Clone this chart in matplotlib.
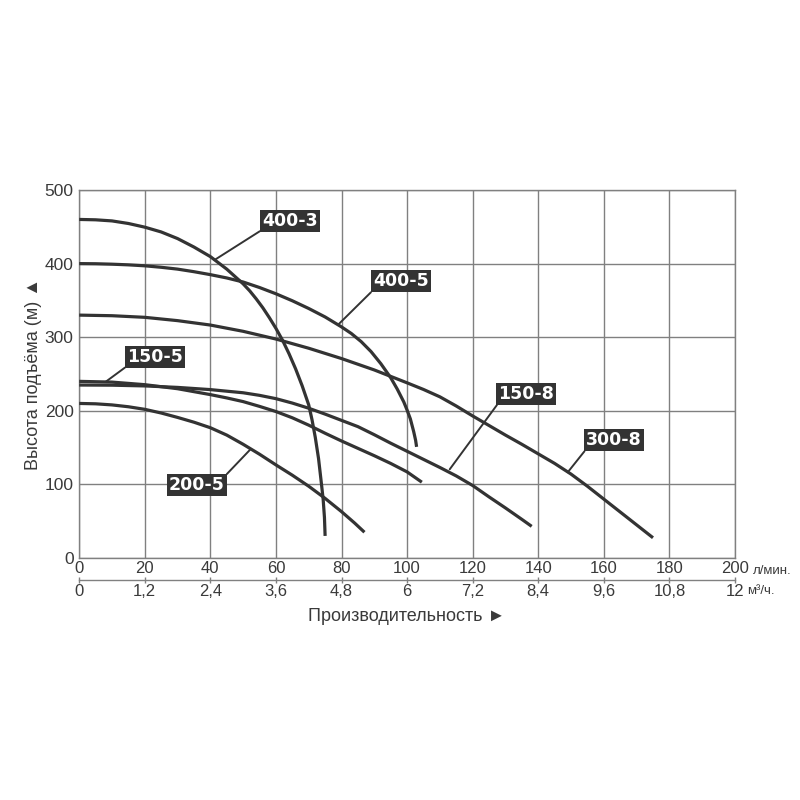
import matplotlib

matplotlib.use("Agg")
import matplotlib.pyplot as plt

# pump curves: flow in l/min, head in m
q_400_3 = [0, 5, 10, 15, 20, 25, 30, 35, 40, 45, 50, 52, 54, 56, 58, 60, 62, 64, 66, 68,
           70, 71, 72, 73, 73.9, 74.4, 74.8, 75]
h_400_3 = [460, 459.5, 458, 454.5, 449.5, 443, 434, 422.5, 409.5, 392.5, 372.5, 363, 352, 340,
           326.5, 312, 296, 277.5, 257, 234, 208, 188, 164, 135, 100, 80, 55, 30]

q_400_5 = [0, 5, 10, 15, 20, 25, 30, 35, 40, 45, 50, 55, 60, 65, 70, 75, 80, 83, 86, 89, 92,
           95, 97, 99, 100, 101, 102, 102.6, 102.9]
h_400_5 = [400, 399.8, 399.2, 398.3, 397, 395, 392.5, 389, 385, 380.5, 375, 367.5, 359, 349.5,
           339, 327.5, 314, 305, 294, 280.5, 264, 245, 229.5, 212, 201, 189, 172, 160, 151]

q_300_8 = [0, 10, 20, 30, 40, 50, 60, 70, 80, 90, 100, 105, 110, 115, 120, 125, 130, 135, 140,
           145, 150, 155, 160, 165, 170, 175]
h_300_8 = [330, 329.2, 327, 322.5, 316.5, 308, 297.5, 285, 271, 255.5, 238, 229, 219, 206.5,
           193, 180, 167, 154.5, 141.5, 128.5, 114, 97.5, 80, 62.5, 45, 27.5]

q_150_8 = [0, 10, 20, 30, 40, 50, 55, 60, 65, 70, 75, 80, 85, 90, 95, 100, 105, 110, 115, 120,
           125, 130, 135, 138]
h_150_8 = [235, 234.8, 233.8, 231.8, 228.8, 224.5, 221, 216.5, 210.5, 203.5, 195.5, 187, 178.5,
           167.5, 156, 145, 134, 123, 111.5, 98.5, 83, 68, 52.5, 43]

q_150_5 = [0, 10, 20, 30, 40, 45, 50, 55, 60, 65, 70, 75, 80, 85, 90, 95, 100, 104.5]
h_150_5 = [240, 239, 235.5, 230, 222, 217.5, 212.5, 206, 199, 190.5, 180.5, 169.5, 159, 149, 139,
           128.5, 117, 103]

q_200_5 = [0, 5, 10, 15, 20, 25, 30, 35, 40, 45, 50, 55, 60, 65, 70, 75, 80, 84, 87]
h_200_5 = [210, 209.5, 208, 205.5, 202, 197, 191, 184.5, 177, 167, 154.5, 141, 126.5, 112.5, 97.5,
           81, 63, 47.5, 35]

curves = [
    ("400-3", q_400_3, h_400_3),
    ("400-5", q_400_5, h_400_5),
    ("300-8", q_300_8, h_300_8),
    ("150-8", q_150_8, h_150_8),
    ("150-5", q_150_5, h_150_5),
    ("200-5", q_200_5, h_200_5),
]

x_ticks_lmin = [0, 20, 40, 60, 80, 100, 120, 140, 160, 180, 200]
x_ticks_m3h = [0, 1.2, 2.4, 3.6, 4.8, 6, 7.2, 8.4, 9.6, 10.8, 12]
x_labels_m3h = ["0", "1,2", "2,4", "3,6", "4,8", "6", "7,2", "8,4", "9,6", "10,8", "12"]
y_ticks = [0, 100, 200, 300, 400, 500]

# label box centre, leader end on curve, corner of box the leader leaves from
label_layout = {
    "400-3": ((64.2, 458), (41.3, 405), (0, 0)),
    "400-5": ((98.1, 376), (79.2, 318), (0, 0)),
    "150-5": ((23.1, 273), (8.1, 239.5), (0, 0)),
    "200-5": ((35.9, 99), (52.3, 148), (1, 1)),
    "150-8": ((136.4, 223), (113, 120.5), (0, 0)),
    "300-8": ((163.1, 160), (149, 116.5), (0, 0)),
}

GRID = "#808080"
INK = "#333333"
TEXT = "#3a3a3a"
FONT = ["Liberation Sans", "DejaVu Sans"]

fig = plt.figure(figsize=(8, 8), dpi=100)
ax = fig.add_axes([0.099, 0.3025, 0.8197, 0.46])

for name, q, h in curves:
    ax.plot(q, h, color=INK, linewidth=2.3, solid_capstyle="butt",
            solid_joinstyle="round", zorder=3)

for name, (text_pos, point, corner) in label_layout.items():
    ax.annotate(
        name,
        xy=point,
        xytext=text_pos,
        ha="center",
        va="center",
        color="white",
        fontsize=12.5,
        fontweight="bold",
        family="DejaVu Sans",
        bbox=dict(boxstyle="square,pad=0.12", facecolor=INK, edgecolor="none"),
        arrowprops=dict(arrowstyle="-", color=INK, linewidth=1.4, relpos=corner,
                        shrinkA=0, shrinkB=0),
        zorder=5,
    )

ax.set_xlim(0, 200)
ax.set_ylim(0, 500)
ax.set_xticks(x_ticks_lmin)
ax.set_yticks(y_ticks)
ax.grid(True, color=GRID, linewidth=1.0)
ax.set_axisbelow(True)
for spine in ax.spines.values():
    spine.set_color(GRID)
    spine.set_linewidth(1.0)
ax.tick_params(axis="both", length=0, labelcolor=TEXT)
ax.tick_params(axis="x", pad=2, labelsize=12)
ax.tick_params(axis="y", pad=4, labelsize=12.5)
for lab in ax.get_xticklabels() + ax.get_yticklabels():
    lab.set_family(FONT)

sec = ax.secondary_xaxis(-22 / 368, functions=(lambda x: x * 0.06, lambda x: x / 0.06))
sec.set_xticks(x_ticks_m3h)
sec.set_xticklabels(x_labels_m3h)
sec.spines["bottom"].set_color(GRID)
sec.spines["bottom"].set_linewidth(1.0)
sec.tick_params(axis="x", direction="inout", length=4, width=1.0, color=GRID,
                labelsize=12, labelcolor=TEXT, pad=1)
for lab in sec.get_xticklabels():
    lab.set_family(FONT)

ax.text(1.027, -0.036, "л/мин.", transform=ax.transAxes, ha="left", va="center",
        fontsize=9.5, color=TEXT, family=FONT)
ax.text(1.018, -0.089, "м³/ч.", transform=ax.transAxes, ha="left", va="center",
        fontsize=9.5, color=TEXT, family=FONT)
ax.text(0.5, -0.158, "Производительность ►", transform=ax.transAxes, ha="center",
        va="center", fontsize=13, color=TEXT, family=FONT)
ax.text(-0.07, 0.5, "Высота подъёма (м) ▲", transform=ax.transAxes, ha="center",
        va="center", rotation=90, fontsize=13, color=TEXT, family=FONT)

fig.savefig("out.png", dpi=100, facecolor="white")
plt.close(fig)
